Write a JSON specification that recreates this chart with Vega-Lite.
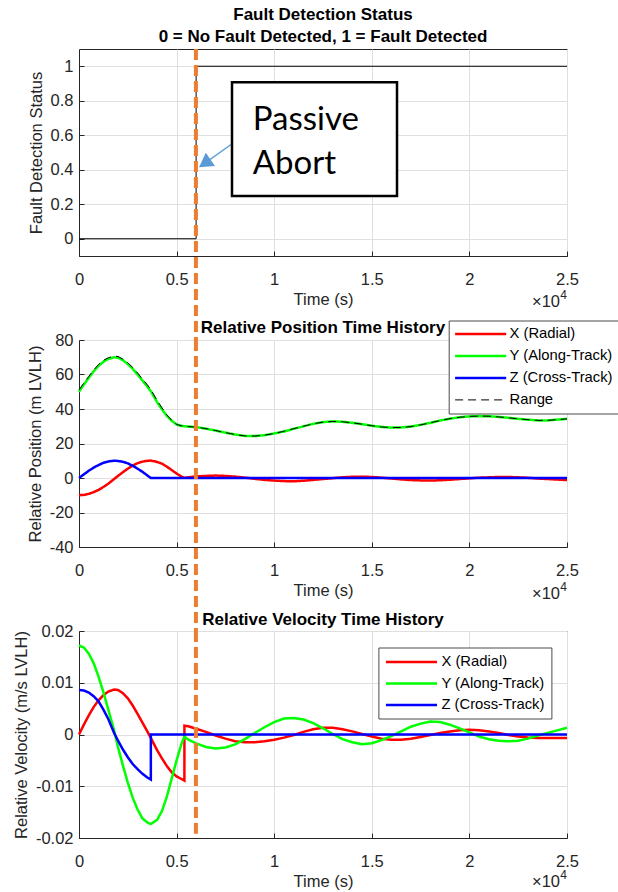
{
  "$schema": "https://vega.github.io/schema/vega-lite/v6.json",
  "padding": {"left": 12, "top": 5, "right": 0, "bottom": 0},
  "background": "#ffffff",
  "config": {
    "font": "Liberation Sans",
    "view": {"stroke": "#262626", "strokeWidth": 1},
    "axis": {"labelFontSize": 16.5, "titleFontSize": 16.5, "titleFontWeight": "normal", "labelColor": "#262626", "titleColor": "#262626", "domainColor": "#262626", "tickColor": "#262626", "gridColor": "#dfdfdf", "tickSize": -5, "labelFlush": false, "labelOverlap": false, "labelFont": "Liberation Sans", "titleFont": "Liberation Sans"},
    "axisX": {"labelPadding": 20, "titlePadding": 4},
    "axisY": {"labelPadding": 11, "titlePadding": 6},
    "title": {"fontSize": 17, "fontWeight": "bold", "color": "#000000", "offset": 1, "font": "Liberation Sans", "anchor": "middle", "frame": "group"},
    "legend": {"orient": "none", "labelFontSize": 14.8, "labelColor": "#000000", "labelFont": "Liberation Sans", "symbolType": "M-1,0H6.3", "symbolSize": 196, "labelOffset": 40, "rowPadding": 5, "padding": 6, "strokeColor": "#4a4a4a", "fillColor": "#ffffff"}
  },
  "datasets": {
    "fault": [{"t": 0, "s": 0}, {"t": 6000, "s": 0}, {"t": 6000.5, "s": 1}, {"t": 25000, "s": 1}],
    "pos": [
      {"t": 0, "X": -10, "Y": 50, "Z": 0, "R": 51},
      {"t": 250, "X": -9.8, "Y": 54.2, "Z": 2.1, "R": 55.1},
      {"t": 500, "X": -9.2, "Y": 58, "Z": 4.2, "R": 58.9},
      {"t": 750, "X": -8.2, "Y": 61.8, "Z": 6.0, "R": 62.6},
      {"t": 1000, "X": -6.9, "Y": 65, "Z": 7.5, "R": 65.8},
      {"t": 1250, "X": -5.2, "Y": 67.4, "Z": 8.8, "R": 68.2},
      {"t": 1500, "X": -3.3, "Y": 69, "Z": 9.6, "R": 69.7},
      {"t": 1800, "X": -0.6, "Y": 70, "Z": 10, "R": 70.7},
      {"t": 2000, "X": 1.2, "Y": 69.7, "Z": 9.9, "R": 70.4},
      {"t": 2250, "X": 3.4, "Y": 68.3, "Z": 9.4, "R": 69},
      {"t": 2500, "X": 5.4, "Y": 66, "Z": 8.5, "R": 66.8},
      {"t": 2750, "X": 7.2, "Y": 63.3, "Z": 7.1, "R": 64.1},
      {"t": 3000, "X": 8.6, "Y": 60, "Z": 5.4, "R": 60.9},
      {"t": 3250, "X": 9.5, "Y": 56.5, "Z": 3.6, "R": 57.4},
      {"t": 3500, "X": 10, "Y": 53, "Z": 1.5, "R": 54},
      {"t": 3680, "X": 10.1, "Y": 50.3, "Z": 0, "R": 51.3},
      {"t": 4000, "X": 9.3, "Y": 44, "Z": 0, "R": 45},
      {"t": 4250, "X": 8.3, "Y": 39.8, "Z": 0, "R": 40.7},
      {"t": 4500, "X": 6.6, "Y": 36, "Z": 0, "R": 36.6},
      {"t": 4750, "X": 4.6, "Y": 33.2, "Z": 0, "R": 33.5},
      {"t": 5000, "X": 2.6, "Y": 31, "Z": 0, "R": 31.1},
      {"t": 5250, "X": 0.8, "Y": 30.2, "Z": 0, "R": 30.2},
      {"t": 5400, "X": 0.1, "Y": 30, "Z": 0, "R": 30},
      {"t": 5600, "X": 0.4, "Y": 29.8, "Z": 0, "R": 29.8},
      {"t": 6000, "X": 0.9, "Y": 29.5, "Z": 0, "R": 29.5},
      {"t": 6500, "X": 1.2, "Y": 28.6, "Z": 0, "R": 28.6},
      {"t": 7000, "X": 1.4, "Y": 27.5, "Z": 0, "R": 27.5},
      {"t": 7500, "X": 1.2, "Y": 26.3, "Z": 0, "R": 26.3},
      {"t": 8000, "X": 0.8, "Y": 25.2, "Z": 0, "R": 25.2},
      {"t": 8500, "X": 0.2, "Y": 24.4, "Z": 0, "R": 24.4},
      {"t": 9000, "X": -0.5, "Y": 24.3, "Z": 0, "R": 24.3},
      {"t": 9500, "X": -1.1, "Y": 24.8, "Z": 0, "R": 24.8},
      {"t": 10000, "X": -1.5, "Y": 25.8, "Z": 0, "R": 25.8},
      {"t": 10500, "X": -1.8, "Y": 27, "Z": 0, "R": 27.1},
      {"t": 11000, "X": -1.9, "Y": 28.5, "Z": 0, "R": 28.6},
      {"t": 11500, "X": -1.6, "Y": 30, "Z": 0, "R": 30},
      {"t": 12000, "X": -1.1, "Y": 31.4, "Z": 0, "R": 31.4},
      {"t": 12500, "X": -0.6, "Y": 32.4, "Z": 0, "R": 32.4},
      {"t": 13000, "X": -0.1, "Y": 32.8, "Z": 0, "R": 32.8},
      {"t": 13500, "X": 0.4, "Y": 32.6, "Z": 0, "R": 32.6},
      {"t": 14000, "X": 0.7, "Y": 32, "Z": 0, "R": 32},
      {"t": 14500, "X": 0.8, "Y": 31.2, "Z": 0, "R": 31.2},
      {"t": 15000, "X": 0.6, "Y": 30.3, "Z": 0, "R": 30.3},
      {"t": 15500, "X": 0.2, "Y": 29.6, "Z": 0, "R": 29.6},
      {"t": 16000, "X": -0.3, "Y": 29.2, "Z": 0, "R": 29.2},
      {"t": 16500, "X": -0.8, "Y": 29.3, "Z": 0, "R": 29.3},
      {"t": 17000, "X": -1.2, "Y": 29.8, "Z": 0, "R": 29.8},
      {"t": 17500, "X": -1.4, "Y": 30.8, "Z": 0, "R": 30.8},
      {"t": 18000, "X": -1.5, "Y": 32, "Z": 0, "R": 32},
      {"t": 18500, "X": -1.3, "Y": 33.3, "Z": 0, "R": 33.3},
      {"t": 19000, "X": -1.0, "Y": 34.4, "Z": 0, "R": 34.4},
      {"t": 19500, "X": -0.6, "Y": 35.2, "Z": 0, "R": 35.2},
      {"t": 20000, "X": -0.2, "Y": 35.7, "Z": 0, "R": 35.7},
      {"t": 20500, "X": 0.2, "Y": 35.9, "Z": 0, "R": 35.9},
      {"t": 21000, "X": 0.4, "Y": 35.8, "Z": 0, "R": 35.8},
      {"t": 21500, "X": 0.6, "Y": 35.4, "Z": 0, "R": 35.4},
      {"t": 22000, "X": 0.6, "Y": 34.9, "Z": 0, "R": 34.9},
      {"t": 22500, "X": 0.4, "Y": 34.3, "Z": 0, "R": 34.3},
      {"t": 23000, "X": 0.1, "Y": 33.8, "Z": 0, "R": 33.8},
      {"t": 23500, "X": -0.3, "Y": 33.4, "Z": 0, "R": 33.4},
      {"t": 24000, "X": -0.6, "Y": 33.4, "Z": 0, "R": 33.4},
      {"t": 24500, "X": -0.9, "Y": 33.8, "Z": 0, "R": 33.8},
      {"t": 25000, "X": -1.2, "Y": 34.3, "Z": 0, "R": 34.3}
    ],
    "vel": [
      {"t": 0, "X": 0, "Y": 0.0172, "Z": 0.0086},
      {"t": 250, "X": 0.0019, "Y": 0.0168, "Z": 0.0085},
      {"t": 500, "X": 0.0037, "Y": 0.0156, "Z": 0.0081},
      {"t": 750, "X": 0.0053, "Y": 0.0138, "Z": 0.0074},
      {"t": 1000, "X": 0.0066, "Y": 0.0112, "Z": 0.0064},
      {"t": 1250, "X": 0.0076, "Y": 0.0082, "Z": 0.0048},
      {"t": 1500, "X": 0.0083, "Y": 0.0048, "Z": 0.003},
      {"t": 1800, "X": 0.0087, "Y": 0.0008, "Z": 0.0003},
      {"t": 2000, "X": 0.0086, "Y": -0.0025, "Z": -0.0012},
      {"t": 2250, "X": 0.008, "Y": -0.006, "Z": -0.0029},
      {"t": 2500, "X": 0.007, "Y": -0.0093, "Z": -0.0044},
      {"t": 2750, "X": 0.0056, "Y": -0.0122, "Z": -0.0057},
      {"t": 3000, "X": 0.004, "Y": -0.0145, "Z": -0.0067},
      {"t": 3250, "X": 0.0023, "Y": -0.0162, "Z": -0.0076},
      {"t": 3500, "X": 0.0006, "Y": -0.017, "Z": -0.0083},
      {"t": 3680, "X": -0.0007, "Y": -0.0173, "Z": -0.0087},
      {"t": 3681, "X": -0.0007, "Y": -0.0173, "Z": 0},
      {"t": 4000, "X": -0.003, "Y": -0.0165, "Z": 0},
      {"t": 4250, "X": -0.0046, "Y": -0.0148, "Z": 0},
      {"t": 4500, "X": -0.0061, "Y": -0.012, "Z": 0},
      {"t": 4750, "X": -0.0073, "Y": -0.0085, "Z": 0},
      {"t": 5000, "X": -0.0081, "Y": -0.005, "Z": 0},
      {"t": 5250, "X": -0.0086, "Y": -0.0018, "Z": 0},
      {"t": 5400, "X": -0.0089, "Y": -0.0004, "Z": 0},
      {"t": 5401, "X": 0.0017, "Y": -0.0004, "Z": 0},
      {"t": 5600, "X": 0.0016, "Y": -0.001, "Z": 0},
      {"t": 6000, "X": 0.0011, "Y": -0.0017, "Z": 0},
      {"t": 6500, "X": 0.0005, "Y": -0.0024, "Z": 0},
      {"t": 7000, "X": -0.0002, "Y": -0.0027, "Z": 0},
      {"t": 7500, "X": -0.0008, "Y": -0.0025, "Z": 0},
      {"t": 8000, "X": -0.0013, "Y": -0.0019, "Z": 0},
      {"t": 8500, "X": -0.0015, "Y": -0.0009, "Z": 0},
      {"t": 9000, "X": -0.0015, "Y": 0.0003, "Z": 0},
      {"t": 9500, "X": -0.0013, "Y": 0.0014, "Z": 0},
      {"t": 10000, "X": -0.001, "Y": 0.0024, "Z": 0},
      {"t": 10500, "X": -0.0006, "Y": 0.0031, "Z": 0},
      {"t": 11000, "X": -0.0001, "Y": 0.0032, "Z": 0},
      {"t": 11500, "X": 0.0005, "Y": 0.0029, "Z": 0},
      {"t": 12000, "X": 0.001, "Y": 0.0022, "Z": 0},
      {"t": 12500, "X": 0.0013, "Y": 0.0012, "Z": 0},
      {"t": 13000, "X": 0.0013, "Y": 0.0001, "Z": 0},
      {"t": 13500, "X": 0.001, "Y": -0.0009, "Z": 0},
      {"t": 14000, "X": 0.0006, "Y": -0.0015, "Z": 0},
      {"t": 14500, "X": 0.0001, "Y": -0.0019, "Z": 0},
      {"t": 15000, "X": -0.0004, "Y": -0.0017, "Z": 0},
      {"t": 15500, "X": -0.0008, "Y": -0.0011, "Z": 0},
      {"t": 16000, "X": -0.001, "Y": -0.0003, "Z": 0},
      {"t": 16500, "X": -0.001, "Y": 0.0006, "Z": 0},
      {"t": 17000, "X": -0.0008, "Y": 0.0015, "Z": 0},
      {"t": 17500, "X": -0.0005, "Y": 0.0021, "Z": 0},
      {"t": 18000, "X": -0.0001, "Y": 0.0025, "Z": 0},
      {"t": 18500, "X": 0.0003, "Y": 0.0024, "Z": 0},
      {"t": 19000, "X": 0.0006, "Y": 0.0019, "Z": 0},
      {"t": 19500, "X": 0.0008, "Y": 0.0012, "Z": 0},
      {"t": 20000, "X": 0.0009, "Y": 0.0004, "Z": 0},
      {"t": 20500, "X": 0.0008, "Y": -0.0004, "Z": 0},
      {"t": 21000, "X": 0.0006, "Y": -0.0009, "Z": 0},
      {"t": 21500, "X": 0.0003, "Y": -0.0012, "Z": 0},
      {"t": 22000, "X": -0.0001, "Y": -0.0013, "Z": 0},
      {"t": 22500, "X": -0.0004, "Y": -0.0012, "Z": 0},
      {"t": 23000, "X": -0.0006, "Y": -0.0008, "Z": 0},
      {"t": 23500, "X": -0.0007, "Y": -0.0002, "Z": 0},
      {"t": 24000, "X": -0.0007, "Y": 0.0003, "Z": 0},
      {"t": 24500, "X": -0.0007, "Y": 0.0008, "Z": 0},
      {"t": 25000, "X": -0.0007, "Y": 0.0013, "Z": 0}
    ]
  },
  "spacing": 84,
  "bounds": "flush",
  "resolve": {"scale": {"color": "independent", "strokeDash": "independent"}, "legend": {"color": "independent", "strokeDash": "independent"}},
  "vconcat": [
    {
      "width": 488, "height": 207,
      "title": {"text": ["Fault Detection Status", "0 = No Fault Detected, 1 = Fault Detected"], "lineHeight": 22},
      "layer": [
        {
          "data": {"name": "fault"},
          "mark": {"type": "line", "color": "#000000", "strokeWidth": 1},
          "encoding": {
            "x": {"field": "t", "type": "quantitative", "scale": {"domain": [0, 25000], "nice": false}, "axis": {"values": [0, 5000, 10000, 15000, 20000, 25000], "labelExpr": "datum.value / 10000", "title": "Time (s)"}},
            "y": {"field": "s", "type": "quantitative", "scale": {"domain": [-0.1, 1.1], "nice": false}, "axis": {"values": [0, 0.2, 0.4, 0.6, 0.8, 1], "labelExpr": "'' + datum.value", "title": "Fault Detection Status"}}
          }
        },
        {
          "data": {"values": [{}]},
          "mark": {"type": "rule", "color": "#ED7D31", "strokeWidth": 4, "strokeDash": [11, 5]},
          "encoding": {"x": {"datum": 5990}, "y": {"datum": 1.1}, "y2": {"datum": -0.587}}
        },
        {
          "data": {"values": [{}]},
          "mark": {"type": "rule", "color": "#5B9BD5", "strokeWidth": 1.3},
          "encoding": {"x": {"datum": 7823}, "y": {"datum": 0.549}, "x2": {"datum": 6440}, "y2": {"datum": 0.437}}
        },
        {
          "data": {"values": [{}]},
          "mark": {"type": "point", "shape": "triangle-up", "angle": 235, "size": 256, "filled": true, "color": "#5B9BD5", "opacity": 1},
          "encoding": {"x": {"datum": 6440}, "y": {"datum": 0.437}}
        },
        {
          "data": {"values": [{}]},
          "mark": {"type": "rect", "fill": "#ffffff", "stroke": "#000000", "strokeWidth": 2.5},
          "encoding": {"x": {"datum": 7838}, "x2": {"datum": 16291}, "y": {"datum": 0.907}, "y2": {"datum": 0.248}}
        },
        {
          "data": {"values": [{}]},
          "mark": {"type": "text", "text": "Passive", "font": "Lato", "fontSize": 33, "align": "left", "baseline": "alphabetic", "color": "#000000"},
          "encoding": {"x": {"datum": 8900}, "y": {"datum": 0.63}}
        },
        {
          "data": {"values": [{}]},
          "mark": {"type": "text", "text": "Abort", "font": "Lato", "fontSize": 33, "align": "left", "baseline": "alphabetic", "color": "#000000"},
          "encoding": {"x": {"datum": 8900}, "y": {"datum": 0.375}}
        },
        {
          "data": {"values": [{}]},
          "mark": {"type": "text", "text": "×10", "fontSize": 16.5, "align": "right", "baseline": "middle", "dx": -7, "color": "#262626"},
          "encoding": {"x": {"datum": 25000}, "y": {"datum": -0.367}}
        },
        {
          "data": {"values": [{}]},
          "mark": {"type": "text", "text": "4", "fontSize": 12, "align": "right", "baseline": "middle", "dy": -7, "color": "#262626"},
          "encoding": {"x": {"datum": 25000}, "y": {"datum": -0.367}}
        }
      ]
    },
    {
      "width": 488, "height": 207,
      "title": {"text": "Relative Position Time History", "dy": 18},
      "layer": [
        {
          "data": {"name": "pos"},
          "transform": [{"fold": ["X", "Y", "Z", "R"], "as": ["series", "value"]}],
          "encoding": {
            "x": {"field": "t", "type": "quantitative", "scale": {"domain": [0, 25000], "nice": false}, "axis": {"values": [0, 5000, 10000, 15000, 20000, 25000], "labelExpr": "datum.value / 10000", "title": "Time (s)"}},
            "y": {"field": "value", "type": "quantitative", "scale": {"domain": [-40, 80], "nice": false}, "axis": {"values": [-40, -20, 0, 20, 40, 60, 80], "labelExpr": "'' + datum.value", "labelOverlap": false, "title": "Relative Position (m LVLH)"}},
            "color": {"field": "series", "type": "nominal", "scale": {"domain": ["X", "Y", "Z", "R"], "range": ["#ff0000", "#00ff00", "#0000ff", "#000000"]}, "legend": {"title": null, "legendX": 369.7, "legendY": -19.5, "rowPadding": 6, "labelExpr": "datum.label == 'X' ? 'X (Radial)' : datum.label == 'Y' ? 'Y (Along-Track)' : datum.label == 'Z' ? 'Z (Cross-Track)' : 'Range'", "encode": {"symbols": {"update": {"strokeWidth": {"signal": "datum.value === 'R' ? 1 : 2.5"}}}}}},
            "strokeDash": {"field": "series", "type": "nominal", "scale": {"domain": ["X", "Y", "Z", "R"], "range": [[1, 0], [1, 0], [1, 0], [8, 5]]}, "legend": {"title": null, "legendX": 369.7, "legendY": -19.5, "rowPadding": 6, "labelExpr": "datum.label == 'X' ? 'X (Radial)' : datum.label == 'Y' ? 'Y (Along-Track)' : datum.label == 'Z' ? 'Z (Cross-Track)' : 'Range'", "encode": {"symbols": {"update": {"strokeWidth": {"signal": "datum.value === 'R' ? 1 : 2.5"}}}}}}
          },
          "layer": [
            {"transform": [{"filter": "datum.series !== 'R'"}], "mark": {"type": "line", "strokeWidth": 2.5}},
            {"transform": [{"filter": "datum.series === 'R'"}], "mark": {"type": "line", "strokeWidth": 1}}
          ]
        },
        {
          "data": {"values": [{}]},
          "mark": {"type": "rule", "color": "#ED7D31", "strokeWidth": 4, "strokeDash": [11, 5]},
          "encoding": {"x": {"datum": 5990}, "y": {"datum": 80, "axis": {"values": [-40, -20, 0, 20, 40, 60, 80], "labelExpr": "'' + datum.value", "labelOverlap": false, "title": "Relative Position (m LVLH)"}}, "y2": {"datum": -88.7}}
        },
        {
          "data": {"values": [{}]},
          "mark": {"type": "text", "text": "×10", "fontSize": 16.5, "align": "right", "baseline": "middle", "dx": -7, "color": "#262626"},
          "encoding": {"x": {"datum": 25000}, "y": {"datum": -67.2, "axis": {"values": [-40, -20, 0, 20, 40, 60, 80], "labelExpr": "'' + datum.value", "labelOverlap": false, "title": "Relative Position (m LVLH)"}}}
        },
        {
          "data": {"values": [{}]},
          "mark": {"type": "text", "text": "4", "fontSize": 12, "align": "right", "baseline": "middle", "dy": -7, "color": "#262626"},
          "encoding": {"x": {"datum": 25000}, "y": {"datum": -67.2, "axis": {"values": [-40, -20, 0, 20, 40, 60, 80], "labelExpr": "'' + datum.value", "labelOverlap": false, "title": "Relative Position (m LVLH)"}}}
        }
      ]
    },
    {
      "width": 488, "height": 207,
      "title": {"text": "Relative Velocity Time History", "dy": 7},
      "layer": [
        {
          "data": {"name": "vel"},
          "transform": [{"fold": ["X", "Y", "Z"], "as": ["series", "value"]}],
          "mark": {"type": "line", "strokeWidth": 2.5},
          "encoding": {
            "x": {"field": "t", "type": "quantitative", "scale": {"domain": [0, 25000], "nice": false}, "axis": {"values": [0, 5000, 10000, 15000, 20000, 25000], "labelExpr": "datum.value / 10000", "title": "Time (s)"}},
            "y": {"field": "value", "type": "quantitative", "scale": {"domain": [-0.02, 0.02], "nice": false}, "axis": {"values": [-0.02, -0.01, 0, 0.01, 0.02], "labelExpr": "'' + datum.value", "title": "Relative Velocity (m/s LVLH)"}},
            "color": {"field": "series", "type": "nominal", "scale": {"domain": ["X", "Y", "Z"], "range": ["#ff0000", "#00ff00", "#0000ff"]}, "legend": {"title": null, "legendX": 299.4, "legendY": 16.5, "rowPadding": 5.5, "labelExpr": "datum.label == 'X' ? 'X (Radial)' : datum.label == 'Y' ? 'Y (Along-Track)' : 'Z (Cross-Track)'", "symbolStrokeWidth": 2.5}}
          }
        },
        {
          "data": {"values": [{}]},
          "mark": {"type": "rule", "color": "#ED7D31", "strokeWidth": 4, "strokeDash": [11, 5]},
          "encoding": {"x": {"datum": 5990}, "y": {"datum": 0.02}, "y2": {"datum": -0.0192}}
        },
        {
          "data": {"values": [{}]},
          "mark": {"type": "text", "text": "×10", "fontSize": 16.5, "align": "right", "baseline": "middle", "dx": -7, "color": "#262626"},
          "encoding": {"x": {"datum": 25000}, "y": {"datum": -0.0285}}
        },
        {
          "data": {"values": [{}]},
          "mark": {"type": "text", "text": "4", "fontSize": 12, "align": "right", "baseline": "middle", "dy": -7, "color": "#262626"},
          "encoding": {"x": {"datum": 25000}, "y": {"datum": -0.0285}}
        }
      ]
    }
  ]
}
